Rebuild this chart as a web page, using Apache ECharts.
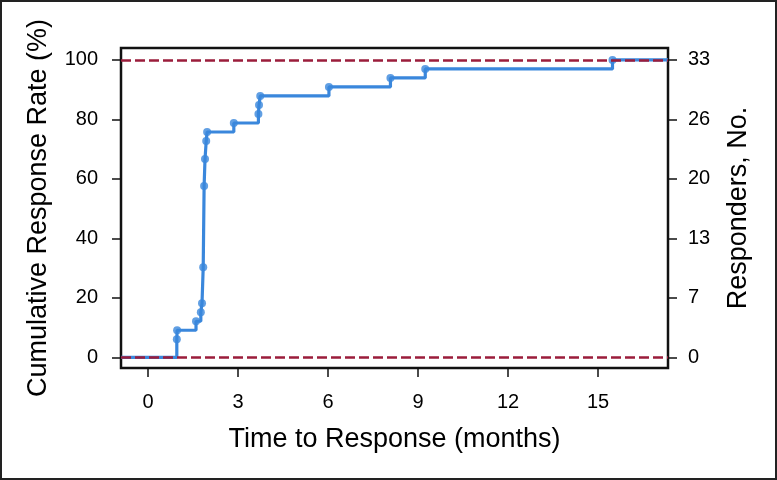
<!DOCTYPE html>
<html>
<head>
<meta charset="utf-8">
<script src="https://cdn.jsdelivr.net/npm/echarts@6/dist/echarts.min.js"></script>
<style>
	html, body { margin: 0; padding: 0; background: #fff; }
	#chart { width: 777px; height: 480px; }
</style>
</head>
<body>
<div id="chart"></div>
<script>
// time of each response (months) and cumulative number of responders at that time
const respTimes = [0.96, 0.97, 1.6, 1.76, 1.8, 1.84, 1.87, 1.9, 1.94, 1.97, 2.86, 3.68, 3.7, 3.74, 6.03, 8.08, 9.24, 15.48];
const respCounts = [2, 3, 4, 5, 6, 10, 19, 22, 24, 25, 26, 27, 28, 29, 30, 31, 32, 33];
const totalResponders = 33;

const xTicks = [0, 3, 6, 9, 12, 15];
const yTicks = [0, 20, 40, 60, 80, 100];
const rightTickLabels = ['0', '7', '13', '20', '26', '33'];
const refLines = [0, 100];

const xMin = -0.9, xMax = 17.33;
const yMin = -3.6, yMax = 104.0;

const FONT = 'Liberation Sans, Arial, sans-serif';
const BLUE = '#3a87dc';
const RED = '#9b1d3b';

const pct = respCounts.map((c) => (c / totalResponders) * 100);
const events = respTimes.map((t, i) => [t, pct[i]]);
const curve = [[xMin, 0], ...events, [xMax, 100]];

const chart = echarts.init(document.getElementById('chart'), null, { renderer: 'canvas' });

const labelStyle = { color: '#000', fontFamily: FONT, fontSize: 20 };
const nameStyle = { color: '#000', fontFamily: FONT, fontSize: 27 };
const tickStyle = { show: true, length: 9, lineStyle: { color: '#111', width: 1.5 } };

chart.setOption({
	animation: false,
	backgroundColor: '#fff',
	graphic: [{
		type: 'rect',
		shape: { x: 1, y: 1, width: 775, height: 478 },
		style: { fill: 'none', stroke: '#222', lineWidth: 2 },
		silent: true,
	}],
	grid: {
		left: 121,
		right: 109,
		top: 48,
		bottom: 112,
		show: true,
		borderColor: '#111',
		borderWidth: 2.5,
		backgroundColor: 'transparent',
	},
	xAxis: {
		type: 'value',
		min: xMin,
		max: xMax,
		name: 'Time to Response (months)',
		nameLocation: 'middle',
		nameGap: 58,
		nameTextStyle: nameStyle,
		axisLine: { show: false, onZero: false },
		splitLine: { show: false },
		axisTick: { ...tickStyle, customValues: xTicks },
		axisLabel: { ...labelStyle, margin: 24, customValues: xTicks },
	},
	yAxis: [
		{
			type: 'value',
			min: yMin,
			max: yMax,
			name: 'Cumulative Response Rate (%)',
			nameLocation: 'middle',
			nameGap: 69,
			nameTextStyle: nameStyle,
			axisLine: { show: false, onZero: false },
			splitLine: { show: false },
			axisTick: { ...tickStyle, customValues: yTicks },
			axisLabel: { ...labelStyle, margin: 23, customValues: yTicks },
		},
		{
			type: 'value',
			position: 'right',
			min: yMin,
			max: yMax,
			name: 'Responders, No.',
			nameLocation: 'middle',
			nameGap: 57,
			nameTextStyle: nameStyle,
			axisLine: { show: false, onZero: false },
			splitLine: { show: false },
			axisTick: { ...tickStyle, customValues: yTicks },
			axisLabel: {
				...labelStyle,
				margin: 20,
				customValues: yTicks,
				formatter: (v) => rightTickLabels[yTicks.indexOf(v)],
			},
		},
	],
	series: [
		{
			type: 'line',
			data: curve,
			step: 'end',
			showSymbol: false,
			lineStyle: { color: BLUE, width: 3.2 },
			z: 2,
		},
		{
			type: 'scatter',
			data: events,
			symbolSize: 8,
			itemStyle: { color: BLUE },
			z: 3,
		},
		{
			type: 'line',
			data: [],
			z: 10,
			markLine: {
				silent: true,
				symbol: 'none',
				label: { show: false },
				lineStyle: { color: RED, width: 2.6, type: [10, 4] },
				data: refLines.map((v) => ({ yAxis: v })),
			},
		},
	],
});
</script>
</body>
</html>
